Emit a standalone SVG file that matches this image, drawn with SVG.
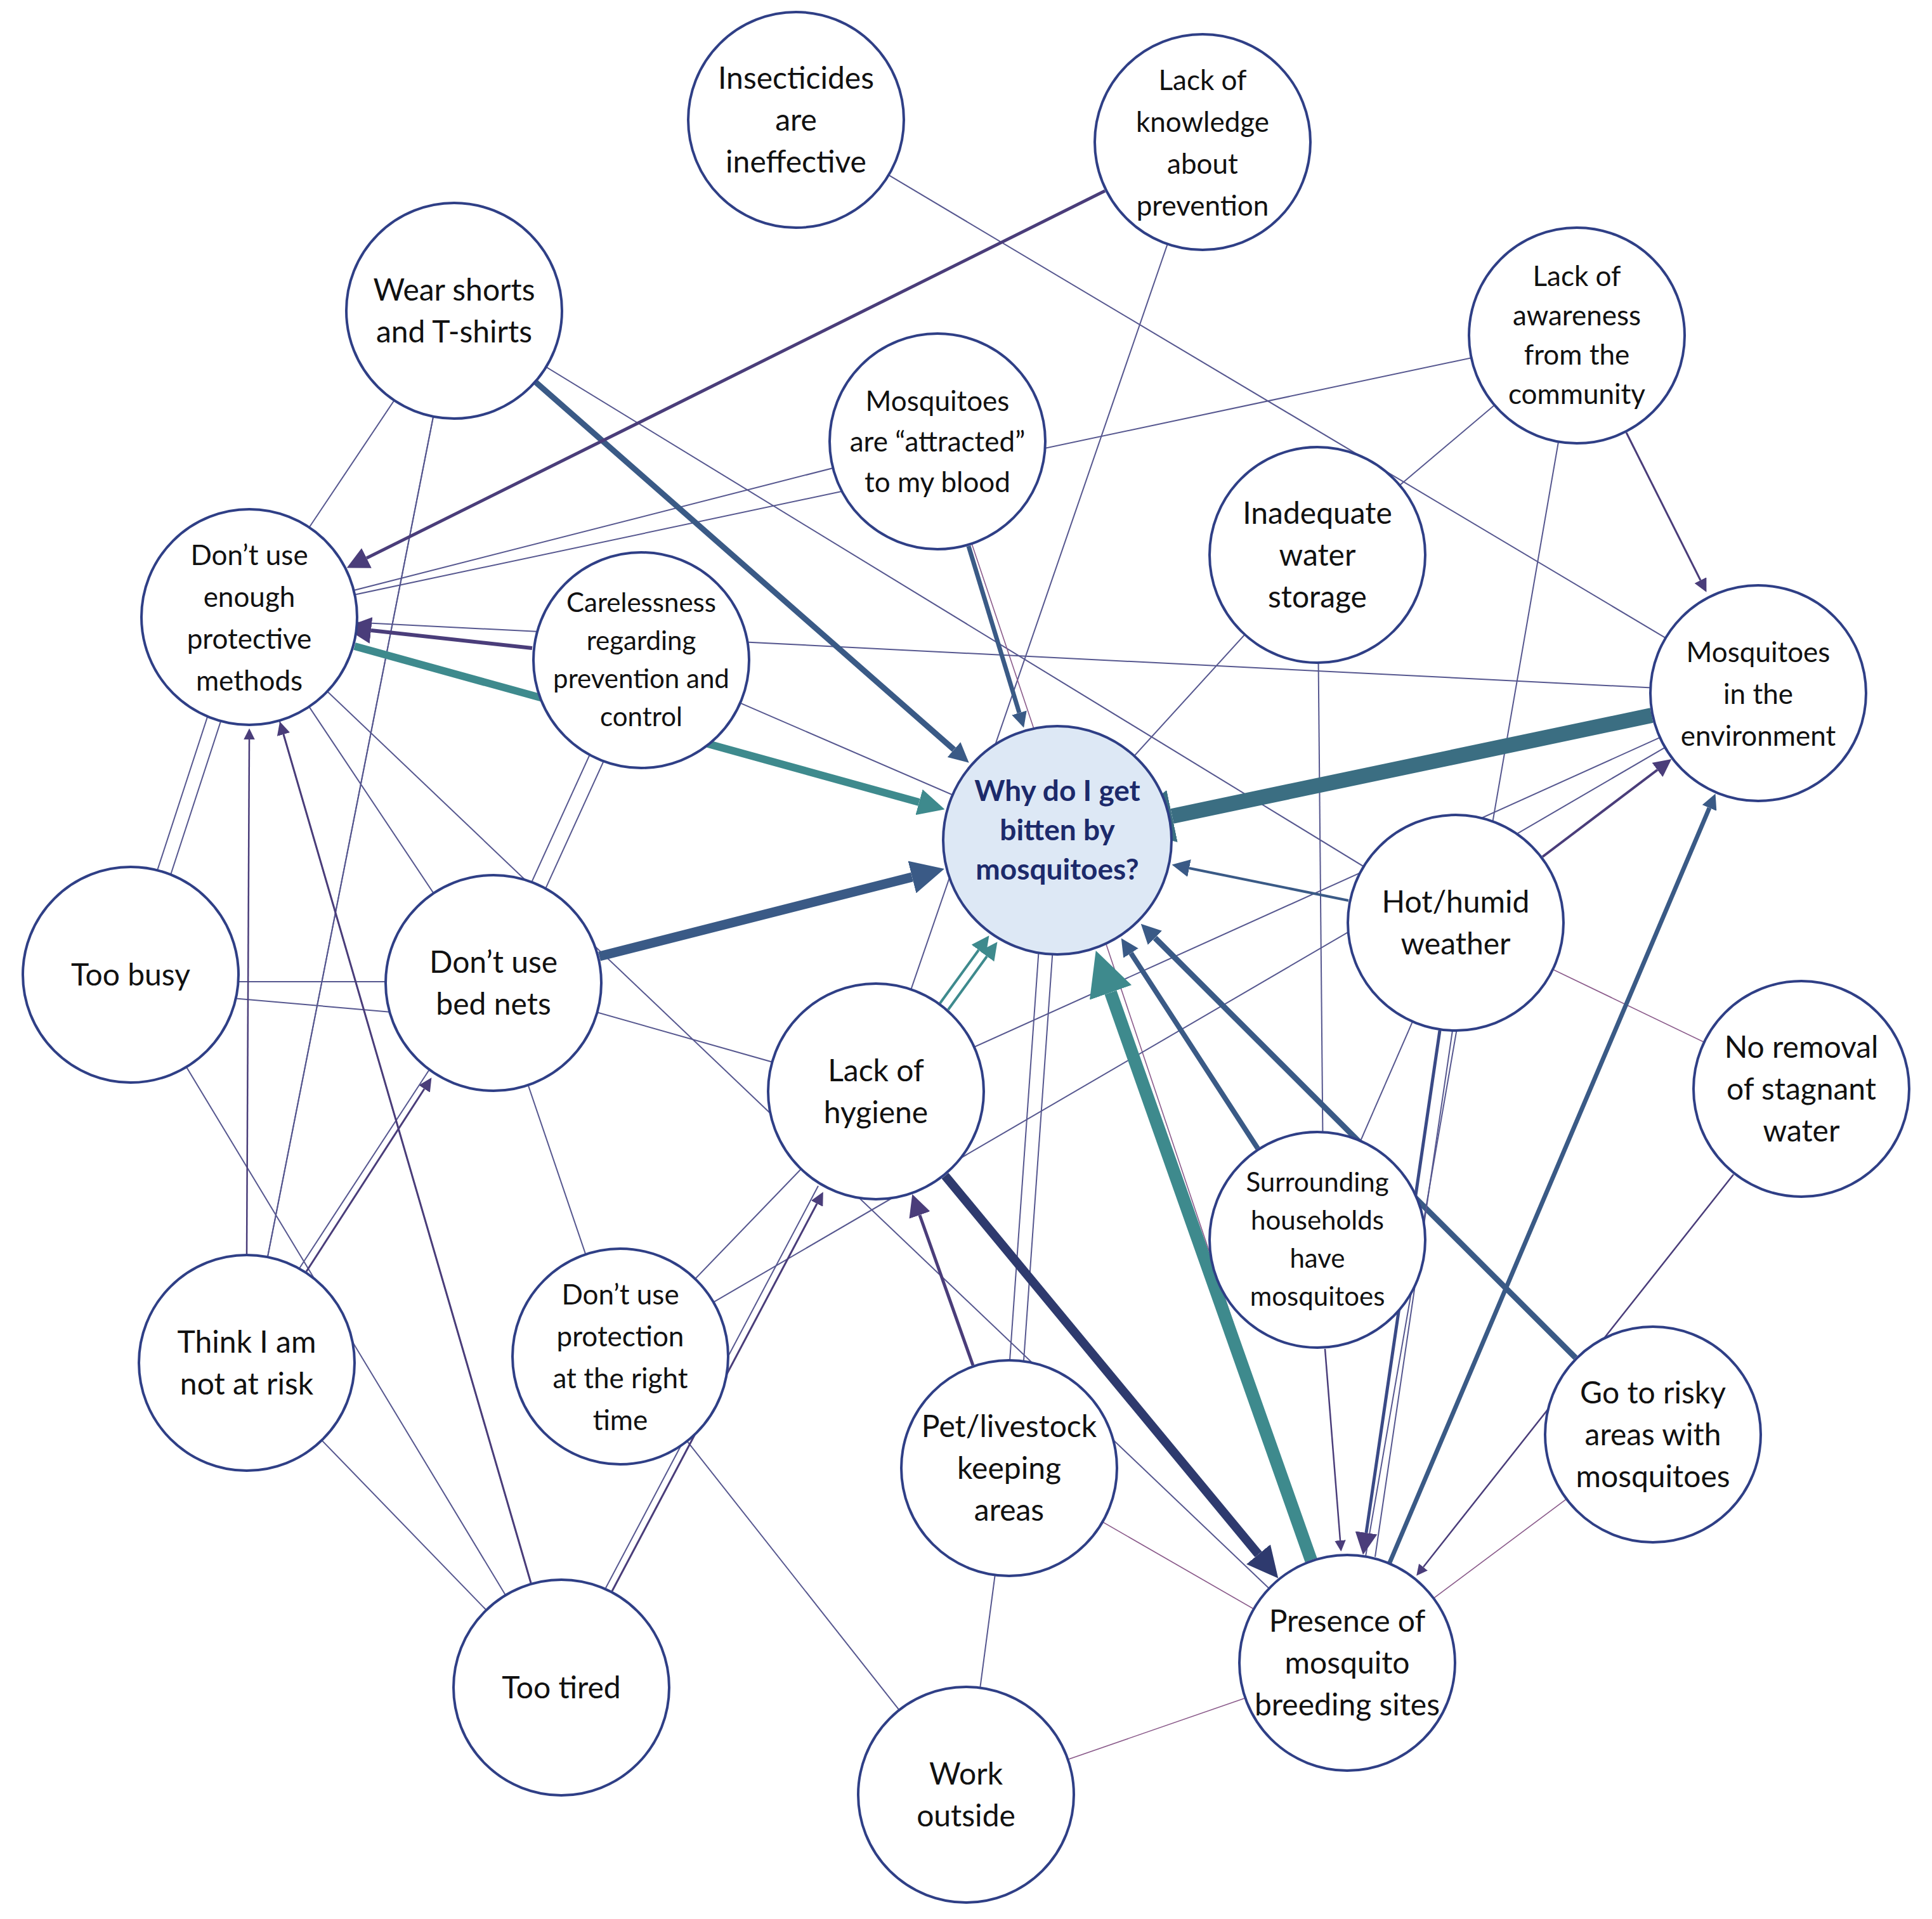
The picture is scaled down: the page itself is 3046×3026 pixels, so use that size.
<svg xmlns="http://www.w3.org/2000/svg" width="3046" height="3026" viewBox="0 0 3046 3026">
<style>
.n{fill:#fff;stroke:#2f3f86;stroke-width:4}
.c{fill:#dde8f5;stroke:#2f3f86;stroke-width:4}
text{font-family:Lato,"Open Sans","Liberation Sans",sans-serif;font-size:48px;fill:#111;text-anchor:middle}
.s{font-size:42px}
.m{font-size:44px}
.w{font-weight:bold;fill:#1c2a6b;font-size:46px}
.t{stroke:#56578f;stroke-width:2;fill:none}
.p{stroke:#8a5a8a;stroke-width:1.6;fill:none}
</style>
<defs>
<marker id="mT" viewBox="0 0 10 10" refX="0" refY="5" markerWidth="3.5" markerHeight="3.5" orient="auto" markerUnits="strokeWidth"><path d="M0,0 L10,5 L0,10 z" fill="#3e8a8d"/></marker>
<marker id="mS" viewBox="0 0 10 10" refX="0" refY="5" markerWidth="3.5" markerHeight="3.5" orient="auto" markerUnits="strokeWidth"><path d="M0,0 L10,5 L0,10 z" fill="#3b6e82"/></marker>
<marker id="mB" viewBox="0 0 10 10" refX="0" refY="5" markerWidth="3.5" markerHeight="3.5" orient="auto" markerUnits="strokeWidth"><path d="M0,0 L10,5 L0,10 z" fill="#3a5a86"/></marker>
<marker id="mN" viewBox="0 0 10 10" refX="0" refY="5" markerWidth="3.5" markerHeight="3.5" orient="auto" markerUnits="strokeWidth"><path d="M0,0 L10,5 L0,10 z" fill="#2e3a6e"/></marker>
<marker id="sP" viewBox="0 0 10 10" refX="0" refY="5" markerWidth="7" markerHeight="7" orient="auto" markerUnits="strokeWidth"><path d="M0,0 L10,5 L0,10 z" fill="#4a3d7a"/></marker>
<marker id="sB" viewBox="0 0 10 10" refX="0" refY="5" markerWidth="7" markerHeight="7" orient="auto" markerUnits="strokeWidth"><path d="M0,0 L10,5 L0,10 z" fill="#3a5a86"/></marker>
<marker id="sT" viewBox="0 0 10 10" refX="0" refY="5" markerWidth="7" markerHeight="7" orient="auto" markerUnits="strokeWidth"><path d="M0,0 L10,5 L0,10 z" fill="#3e8a8d"/></marker>
</defs>
<rect width="3046" height="3026" fill="#fff"/>
<g id="connectors">
<line class="t" x1="1255" y1="189" x2="2772" y2="1093"/>
<line class="t" x1="1896" y1="224" x2="1381" y2="1721"/>
<line class="t" x1="716" y1="490" x2="393" y2="973"/>
<line class="t" x1="716" y1="490" x2="389" y2="2149"/>
<line class="t" x1="716" y1="490" x2="2295" y2="1455"/>
<line class="t" x1="1478" y1="696" x2="393" y2="973"/>
<line class="p" x1="1478" y1="696" x2="2124" y2="2622"/>
<line class="t" x1="2486" y1="529" x2="393" y2="973"/>
<line class="t" x1="2486" y1="529" x2="2077" y2="875"/>
<line class="t" x1="2486" y1="529" x2="2124" y2="2622"/>
<line class="t" x1="393" y1="973" x2="2772" y2="1093"/>
<line class="t" x1="2077" y1="875" x2="1667" y2="1325"/>
<line class="t" x1="2077" y1="875" x2="2087" y2="1955"/>
<line class="t" x1="1011" y1="1041" x2="1667" y2="1325"/>
<line class="t" x1="1000" y1="1036" x2="768" y2="1545"/>
<line class="t" x1="1022" y1="1046" x2="790" y2="1555"/>
<line class="t" x1="380" y1="968" x2="196" y2="1532"/>
<line class="t" x1="400" y1="978" x2="216" y2="1542"/>
<line class="t" x1="393" y1="973" x2="778" y2="1550"/>
<line class="t" x1="393" y1="973" x2="2124" y2="2622"/>
<line class="t" x1="206" y1="1548" x2="778" y2="1548"/>
<line class="t" x1="206" y1="1560" x2="778" y2="1610"/>
<line class="t" x1="206" y1="1537" x2="885" y2="2661"/>
<line class="t" x1="389" y1="2149" x2="885" y2="2661"/>
<line class="t" x1="389" y1="2149" x2="716" y2="490"/>
<line class="t" x1="885" y1="2661" x2="393" y2="973"/>
<line class="t" x1="778" y1="1550" x2="1381" y2="1721"/>
<line class="t" x1="778" y1="1550" x2="978" y2="2139"/>
<line class="t" x1="978" y1="2139" x2="1381" y2="1721"/>
<line class="t" x1="978" y1="2139" x2="2772" y2="1093"/>
<line class="t" x1="978" y1="2139" x2="1523" y2="2830"/>
<line class="t" x1="1381" y1="1721" x2="2772" y2="1093"/>
<line class="p" x1="2295" y1="1455" x2="2840" y2="1717"/>
<line class="p" x1="2606" y1="2262" x2="2124" y2="2622"/>
<line class="t" x1="2295" y1="1455" x2="2077" y2="1955"/>
<line class="p" x1="2124" y1="2622" x2="1523" y2="2830"/>
<line class="t" x1="1591" y1="2315" x2="1523" y2="2830"/>
<line class="t" x1="1580" y1="2315" x2="1650" y2="1325"/>
<line class="t" x1="1602" y1="2315" x2="1672" y2="1325"/>
<line class="p" x1="1591" y1="2315" x2="2124" y2="2622"/>
<line x1="2604" y1="1128" x2="1848" y2="1287" stroke="#3b6e82" stroke-width="24" marker-end="url(#mS)"/>
<line x1="2067" y1="2460" x2="1751" y2="1565" stroke="#3e8a8d" stroke-width="20" marker-end="url(#mT)"/>
<line x1="945" y1="1508" x2="1438" y2="1383" stroke="#3a5a86" stroke-width="15" marker-end="url(#mB)"/>
<line x1="559" y1="1019" x2="1449" y2="1265" stroke="#3e8a8d" stroke-width="12" marker-end="url(#mT)"/>
<line x1="845" y1="603" x2="1504" y2="1182" stroke="#3a5a86" stroke-width="9" marker-end="url(#mB)"/>
<line x1="1527" y1="861" x2="1607" y2="1124" stroke="#3a5a86" stroke-width="7" marker-end="url(#mB)"/>
<line x1="2484" y1="2141" x2="1821" y2="1479" stroke="#3a5a86" stroke-width="9" marker-end="url(#mB)"/>
<line x1="1983" y1="1811" x2="1783" y2="1503" stroke="#3a5a86" stroke-width="8" marker-end="url(#mB)"/>
<line x1="2126" y1="1420" x2="1875" y2="1369" stroke="#3a5a86" stroke-width="4" marker-end="url(#sB)"/>
<line x1="1490" y1="1854" x2="1984" y2="2451" stroke="#2e3a6e" stroke-width="14" marker-end="url(#mN)"/>
<line x1="2191" y1="2464" x2="2695" y2="1274" stroke="#3a5a86" stroke-width="7" marker-end="url(#mB)"/>
<line x1="1742" y1="301" x2="578" y2="880" stroke="#4a3d7a" stroke-width="5" marker-end="url(#sP)"/>
<line x1="839" y1="1022" x2="585" y2="994" stroke="#4a3d7a" stroke-width="6" marker-end="url(#sP)"/>
<line x1="2564" y1="682" x2="2681" y2="915" stroke="#4a3d7a" stroke-width="3" marker-end="url(#sP)"/>
<line x1="483" y1="2005" x2="669" y2="1717" stroke="#4a3d7a" stroke-width="3" marker-end="url(#sP)"/>
<line class="t" x1="472" y1="2000" x2="676" y2="1688"/>
<line x1="965" y1="2509" x2="1288" y2="1898" stroke="#4a3d7a" stroke-width="3" marker-end="url(#sP)"/>
<line class="t" x1="955" y1="2504" x2="1290" y2="1870"/>
<line x1="1534" y1="2153" x2="1450" y2="1916" stroke="#4a3d7a" stroke-width="5" marker-end="url(#sP)"/>
<line x1="1482" y1="1582" x2="1543" y2="1498" stroke="#3e8a8d" stroke-width="4" marker-end="url(#sT)"/>
<line x1="1495" y1="1592" x2="1556" y2="1508" stroke="#3e8a8d" stroke-width="4" marker-end="url(#sT)"/>
<line x1="2270" y1="1625" x2="2154" y2="2417" stroke="#3a4a86" stroke-width="5" marker-end="url(#sP)"/>
<line class="t" x1="2290" y1="1625" x2="2168" y2="2455"/>
<line x1="2089" y1="2127" x2="2113" y2="2429" stroke="#4a3d7a" stroke-width="2.5" marker-end="url(#sP)"/>
<line x1="2733" y1="1852" x2="2244" y2="2471" stroke="#4a3d7a" stroke-width="2.5" marker-end="url(#sP)"/>
<line x1="389" y1="1977" x2="393" y2="1166" stroke="#4a3d7a" stroke-width="2.5" marker-end="url(#sP)"/>
<line x1="837" y1="2496" x2="447" y2="1158" stroke="#4a3d7a" stroke-width="3" marker-end="url(#sP)"/>
<line x1="2432" y1="1351" x2="2613" y2="1214" stroke="#4a3d7a" stroke-width="4" marker-end="url(#sP)"/>
</g>
<g id="n1"><circle class="n" cx="1255" cy="189" r="170"/><text x="1255" y="140">Insecticides</text><text x="1255" y="206">are</text><text x="1255" y="272">ineffective</text></g>
<g id="n2"><circle class="n" cx="1896" cy="224" r="170"/><text class="m" x="1896" y="142">Lack of</text><text class="m" x="1896" y="208">knowledge</text><text class="m" x="1896" y="274">about</text><text class="m" x="1896" y="340">prevention</text></g>
<g id="n3"><circle class="n" cx="716" cy="490" r="170"/><text x="716" y="474">Wear shorts</text><text x="716" y="540">and T-shirts</text></g>
<g id="n4"><circle class="n" cx="1478" cy="696" r="170"/><text class="m" x="1478" y="648">Mosquitoes</text><text class="m" x="1478" y="712">are “attracted”</text><text class="m" x="1478" y="776">to my blood</text></g>
<g id="n5"><circle class="n" cx="2486" cy="529" r="170"/><text class="m" x="2486" y="451">Lack of</text><text class="m" x="2486" y="513">awareness</text><text class="m" x="2486" y="575">from the</text><text class="m" x="2486" y="637">community</text></g>
<g id="n6"><circle class="n" cx="2077" cy="875" r="170"/><text x="2077" y="826">Inadequate</text><text x="2077" y="892">water</text><text x="2077" y="958">storage</text></g>
<g id="n7"><circle class="n" cx="393" cy="973" r="170"/><text class="m" x="393" y="891">Don’t use</text><text class="m" x="393" y="957">enough</text><text class="m" x="393" y="1023">protective</text><text class="m" x="393" y="1089">methods</text></g>
<g id="n8"><circle class="n" cx="1011" cy="1041" r="170"/><text class="s" x="1011" y="965">Carelessness</text><text class="s" x="1011" y="1025">regarding</text><text class="s" x="1011" y="1085">prevention and</text><text class="s" x="1011" y="1145">control</text></g>
<g id="n9"><circle class="n" cx="2772" cy="1093" r="170"/><text class="m" x="2772" y="1044">Mosquitoes</text><text class="m" x="2772" y="1110">in the</text><text class="m" x="2772" y="1176">environment</text></g>
<g id="n10"><circle class="c" cx="1667" cy="1325" r="180"/><text class="w" x="1667" y="1263">Why do I get</text><text class="w" x="1667" y="1325">bitten by</text><text class="w" x="1667" y="1387">mosquitoes?</text></g>
<g id="n11"><circle class="n" cx="206" cy="1537" r="170"/><text x="206" y="1554">Too busy</text></g>
<g id="n12"><circle class="n" cx="778" cy="1550" r="170"/><text x="778" y="1534">Don’t use</text><text x="778" y="1600">bed nets</text></g>
<g id="n13"><circle class="n" cx="2295" cy="1455" r="170"/><text x="2295" y="1439">Hot/humid</text><text x="2295" y="1505">weather</text></g>
<g id="n14"><circle class="n" cx="1381" cy="1721" r="170"/><text x="1381" y="1705">Lack of</text><text x="1381" y="1771">hygiene</text></g>
<g id="n15"><circle class="n" cx="2840" cy="1717" r="170"/><text x="2840" y="1668">No removal</text><text x="2840" y="1734">of stagnant</text><text x="2840" y="1800">water</text></g>
<g id="n16"><circle class="n" cx="2077" cy="1955" r="170"/><text class="s" x="2077" y="1879">Surrounding</text><text class="s" x="2077" y="1939">households</text><text class="s" x="2077" y="1999">have</text><text class="s" x="2077" y="2059">mosquitoes</text></g>
<g id="n17"><circle class="n" cx="389" cy="2149" r="170"/><text x="389" y="2133">Think I am</text><text x="389" y="2199">not at risk</text></g>
<g id="n18"><circle class="n" cx="978" cy="2139" r="170"/><text class="m" x="978" y="2057">Don’t use</text><text class="m" x="978" y="2123">protection</text><text class="m" x="978" y="2189">at the right</text><text class="m" x="978" y="2255">time</text></g>
<g id="n19"><circle class="n" cx="1591" cy="2315" r="170"/><text x="1591" y="2266">Pet/livestock</text><text x="1591" y="2332">keeping</text><text x="1591" y="2398">areas</text></g>
<g id="n20"><circle class="n" cx="2606" cy="2262" r="170"/><text x="2606" y="2213">Go to risky</text><text x="2606" y="2279">areas with</text><text x="2606" y="2345">mosquitoes</text></g>
<g id="n21"><circle class="n" cx="885" cy="2661" r="170"/><text x="885" y="2678">Too tired</text></g>
<g id="n22"><circle class="n" cx="1523" cy="2830" r="170"/><text x="1523" y="2814">Work</text><text x="1523" y="2880">outside</text></g>
<g id="n23"><circle class="n" cx="2124" cy="2622" r="170"/><text x="2124" y="2573">Presence of</text><text x="2124" y="2639">mosquito</text><text x="2124" y="2705">breeding sites</text></g>
</svg>
